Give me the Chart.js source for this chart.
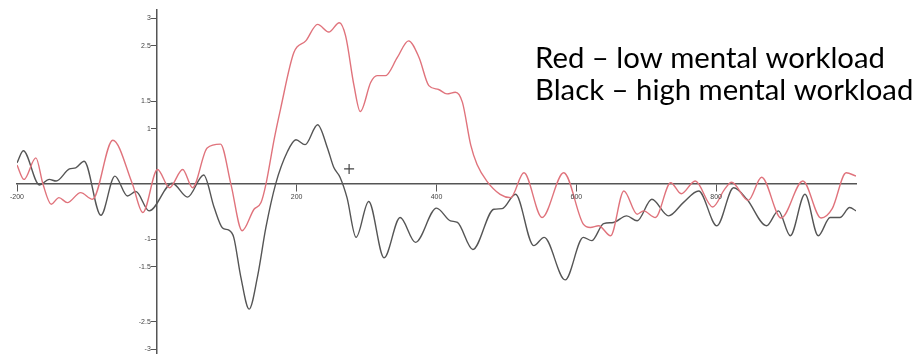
<!DOCTYPE html>
<html>
<head>
<meta charset="utf-8">
<script src="https://cdn.jsdelivr.net/npm/chart.js@4"></script>
<style>
  html, body { margin: 0; padding: 0; background: #ffffff; }
  #wrap { position: relative; width: 918px; height: 360px; }
</style>
</head>
<body>
<div id="wrap"><canvas id="c"></canvas></div>
<script>
// ---- data (time in ms, amplitude) ----
const redTimes = [-200,-190,-173,-163,-151,-140,-128,-109,-92,-63,-35,-20,1,18,37,51,72,91,106,122,139,149,156,168,177,196,213,230,246,261,270,282,291,306,315,327,344,360,375,389,403,415,427,437,449,458,472,491,506,525,551,582,610,620,632,649,668,687,696,713,735,750,770,795,812,822,846,865,893,924,950,966,986,1000];
const redValues = [0.34,0.08,0.47,0.0,-0.37,-0.25,-0.34,-0.16,-0.28,0.79,0.0,-0.52,0.26,-0.07,0.26,-0.07,0.65,0.72,-0.01,-0.85,-0.46,-0.34,-0.01,0.82,1.36,2.38,2.59,2.89,2.75,2.92,2.68,1.78,1.31,1.84,1.96,1.96,2.29,2.59,2.29,1.78,1.71,1.63,1.66,1.48,0.70,0.35,0.05,-0.19,-0.25,0.20,-0.61,0.20,-0.73,-0.79,-0.76,-0.94,-0.13,-0.55,-0.49,-0.61,0.02,-0.18,0.05,-0.42,-0.10,0.03,-0.30,0.12,-0.62,0.05,-0.62,-0.45,0.20,0.14];

const blackTimes = [-200,-191,-168,-154,-144,-125,-116,-104,-80,-60,-42,-30,-11,22,44,67,82,94,103,110,120,132,144,156,170,187,199,212,230,244,253,262,272,285,303,325,348,370,400,420,430,452,482,494,513,539,554,584,610,622,639,653,672,687,708,732,753,775,801,825,844,872,889,906,927,946,963,977,991,1000];
const blackValues = [0.38,0.60,-0.02,0.08,0.05,0.27,0.29,0.41,-0.57,0.14,-0.22,-0.14,-0.49,0.01,-0.24,0.16,-0.43,-0.80,-0.84,-0.97,-1.68,-2.27,-1.68,-0.79,0.0,0.59,0.80,0.71,1.07,0.65,0.30,0.12,-0.25,-0.97,-0.32,-1.34,-0.61,-1.06,-0.44,-0.67,-0.70,-1.19,-0.46,-0.45,-0.19,-1.12,-0.97,-1.74,-0.97,-1.03,-0.72,-0.70,-0.58,-0.67,-0.28,-0.58,-0.34,-0.13,-0.76,-0.07,-0.28,-0.76,-0.49,-0.94,-0.19,-0.94,-0.61,-0.61,-0.43,-0.49];

const cursorTimes = [275];
const cursorValues = [0.27];

const xTickValues = [-200, 200, 400, 600, 800];
const yTickValues = [3, 2.5, 1.5, 1, -1, -1.5, -2.5, -3];

const legendLines = ['Red \u2013 low mental workload', 'Black \u2013 high mental workload'];

// ---- build ----
const toPoints = (xs, ys) => xs.map((x, i) => ({ x: x, y: ys[i] }));

const TICK_FONT = '7px "Liberation Sans"';
const TICK_COLOR = '#444444';

// tick labels placed through the library's scales (beside the tick marks)
const tickLabelPlugin = {
  id: 'tickLabels',
  afterDraw(chart) {
    const ctx = chart.ctx;
    const xs = chart.scales.x, ys = chart.scales.y;
    const axisX = xs.getPixelForValue(0);
    const axisY = ys.getPixelForValue(0);
    ctx.save();
    ctx.font = TICK_FONT;
    ctx.fillStyle = TICK_COLOR;
    ctx.textAlign = 'right';
    ctx.textBaseline = 'middle';
    yTickValues.forEach(v => ctx.fillText(String(v), axisX - 6, ys.getPixelForValue(v)));
    ctx.textAlign = 'center';
    xTickValues.forEach(v => ctx.fillText(String(v), xs.getPixelForValue(v), axisY + 13));
    ctx.restore();
  }
};

const textPlugin = {
  id: 'sideText',
  afterDraw(chart) {
    const ctx = chart.ctx;
    ctx.save();
    ctx.font = '100px Lato';
    const w = ctx.measureText(legendLines[0]).width;
    const size = 100 * 350 / w;
    ctx.font = size.toFixed(2) + 'px Lato';
    ctx.fillStyle = '#000000';
    ctx.textBaseline = 'alphabetic';
    ctx.textAlign = 'left';
    ctx.fillText(legendLines[0], 535, 68);
    ctx.fillText(legendLines[1], 535, 100);
    ctx.restore();
  }
};

new Chart(document.getElementById('c'), {
  type: 'line',
  data: {
    datasets: [
      {
        data: toPoints(redTimes, redValues),
        borderColor: '#e0737c',
        borderWidth: 1.4,
        pointRadius: 0,
        cubicInterpolationMode: 'monotone',
        fill: false
      },
      {
        data: toPoints(blackTimes, blackValues),
        borderColor: '#555555',
        borderWidth: 1.4,
        pointRadius: 0,
        cubicInterpolationMode: 'monotone',
        fill: false
      },
      {
        data: toPoints(cursorTimes, cursorValues),
        showLine: false,
        pointStyle: 'cross',
        pointRadius: 5,
        borderColor: '#444444',
        borderWidth: 1.2
      }
    ]
  },
  options: {
    responsive: true,
    maintainAspectRatio: false,
    animation: false,
    layout: { padding: { left: 17, right: 62, top: 10, bottom: 2 } },
    plugins: { legend: { display: false }, tooltip: { enabled: false } },
    scales: {
      x: {
        type: 'linear',
        position: { y: 0 },
        min: -200,
        max: 1000,
        afterBuildTicks: (scale) => { scale.ticks = xTickValues.map(v => ({ value: v })); },
        grid: { drawOnChartArea: false, drawTicks: true, tickLength: 7, color: '#555555', lineWidth: 1 },
        border: { display: true, color: '#555555', width: 1.5 },
        ticks: { display: false }
      },
      y: {
        type: 'linear',
        position: { x: 0 },
        min: -3.08,
        max: 3.15,
        afterBuildTicks: (scale) => { scale.ticks = yTickValues.map(v => ({ value: v })); },
        grid: { drawOnChartArea: false, drawTicks: true, tickLength: 5, color: '#555555', lineWidth: 1 },
        border: { display: true, color: '#555555', width: 1.5 },
        ticks: { display: false }
      }
    }
  },
  plugins: [tickLabelPlugin, textPlugin]
});
</script>
</body>
</html>
